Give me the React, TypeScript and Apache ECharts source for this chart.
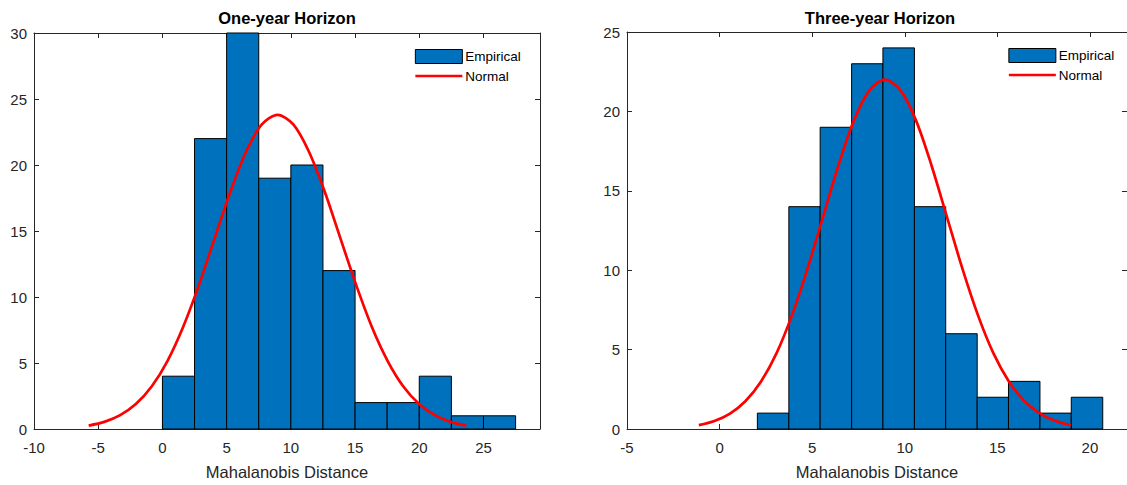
import React, { useEffect, useRef } from "react";
import * as echarts from "echarts";

// ---------- data ----------
const leftTitle = "One-year Horizon";
const rightTitle = "Three-year Horizon";
const xAxisLabel = "Mahalanobis Distance";

const leftBinEdges = [0, 2.5, 5, 7.5, 10, 12.5, 15, 17.5, 20, 22.5, 25, 27.5];
const leftCounts = [4, 22, 30, 19, 20, 12, 2, 2, 4, 1, 1];

const rightBinEdges = [2.04, 3.74, 5.43, 7.13, 8.82, 10.52, 12.21, 13.91, 15.6, 17.3, 18.99, 20.69];
const rightCounts = [1, 14, 19, 23, 24, 14, 6, 2, 3, 1, 2];

const leftNormalX = [
  -5.74, -4.52, -3.29, -2.07, -0.84, 0.39, 1.61, 2.84, 4.06, 5.29, 6.51, 7.74, 8.96,
  10.19, 11.41, 12.64, 13.86, 15.09, 16.31, 17.54, 18.76, 19.99, 21.21, 22.44, 23.66,
];
const leftNormalY = [
  0.26, 0.54, 1.05, 1.89, 3.22, 5.15, 7.73, 10.9, 14.44, 17.97, 21.0, 23.07, 23.8,
  23.07, 21.0, 17.97, 14.44, 10.9, 7.73, 5.15, 3.22, 1.89, 1.05, 0.54, 0.26,
];

const rightNormalX = [
  -1.12, -0.28, 0.56, 1.39, 2.23, 3.07, 3.9, 4.74, 5.58, 6.42, 7.25, 8.09, 8.93,
  9.77, 10.61, 11.44, 12.28, 13.12, 13.96, 14.79, 15.63, 16.47, 17.31, 18.14, 18.98,
];
const rightNormalY = [
  0.24, 0.5, 0.97, 1.75, 2.98, 4.76, 7.14, 10.07, 13.34, 16.61, 19.42, 21.32, 22.0,
  21.32, 19.42, 16.61, 13.34, 10.07, 7.14, 4.76, 2.98, 1.75, 0.97, 0.5, 0.24,
];

const leftXTicks = { min: -10, max: 29.4, interval: 5 };
const leftYTicks = { min: 0, max: 30, interval: 5 };
const rightXTicks = { min: -5, max: 22, interval: 5 };
const rightYTicks = { min: 0, max: 25, interval: 5 };

// ---------- style ----------
const FONT = "'Liberation Sans', Arial, Helvetica, sans-serif";
const AXIS_COLOR = "#262626";
const BAR_COLOR = "#0072BD";
const LINE_COLOR = "#FF0000";

const grids = [
  { left: 34, top: 33, width: 506, height: 400 },
  { left: 627, top: 32, width: 506, height: 400 },
];

function histData(edges: number[], counts: number[]) {
  return counts.map((c, i) => [edges[i], edges[i + 1], c]);
}
function lineData(xs: number[], ys: number[]) {
  return xs.map((x, i) => [x, ys[i]]);
}

function makeXAxes(gridIndex: number, t: { min: number; max: number; interval: number }, name: string) {
  const base = {
    type: "value" as const,
    gridIndex,
    min: t.min,
    max: t.max,
    interval: t.interval,
    splitLine: { show: false },
    axisLine: { show: true, onZero: false, lineStyle: { color: AXIS_COLOR, width: 1 } },
    axisTick: { show: true, inside: true, length: 5, lineStyle: { color: AXIS_COLOR, width: 1 } },
  };
  return [
    {
      ...base,
      position: "bottom",
      name,
      nameLocation: "middle",
      nameGap: 34,
      nameTextStyle: { fontFamily: FONT, fontSize: 16.5, color: AXIS_COLOR },
      axisLabel: {
        show: true,
        margin: 11,
        fontFamily: FONT,
        fontSize: 15,
        color: AXIS_COLOR,
        showMaxLabel: false,
        showMinLabel: true,
      },
    },
    { ...base, position: "top", axisLabel: { show: false } },
  ];
}

function makeYAxes(gridIndex: number, t: { min: number; max: number; interval: number }) {
  const base = {
    type: "value" as const,
    gridIndex,
    min: t.min,
    max: t.max,
    interval: t.interval,
    splitLine: { show: false },
    axisLine: { show: true, onZero: false, lineStyle: { color: AXIS_COLOR, width: 1 } },
    axisTick: { show: true, inside: true, length: 5, lineStyle: { color: AXIS_COLOR, width: 1 } },
  };
  return [
    {
      ...base,
      position: "left",
      axisLabel: { show: true, margin: 7, fontFamily: FONT, fontSize: 15, color: AXIS_COLOR },
    },
    { ...base, position: "right", axisLabel: { show: false } },
  ];
}

function histSeries(axisIndex: number, edges: number[], counts: number[]) {
  return {
    type: "custom",
    name: "Empirical",
    xAxisIndex: axisIndex,
    yAxisIndex: axisIndex,
    itemStyle: { color: BAR_COLOR },
    encode: { x: [0, 1], y: 2 },
    data: histData(edges, counts),
    z: 2,
    renderItem: (params: any, api: any) => {
      const p0 = api.coord([api.value(0), api.value(2)]);
      const p1 = api.coord([api.value(1), 0]);
      return {
        type: "rect",
        shape: { x: p0[0], y: p0[1], width: p1[0] - p0[0], height: p1[1] - p0[1] },
        style: { fill: BAR_COLOR, stroke: "#000", lineWidth: 1 },
      };
    },
  };
}

function normalSeries(axisIndex: number, xs: number[], ys: number[]) {
  return {
    type: "line",
    name: "Normal",
    xAxisIndex: axisIndex,
    yAxisIndex: axisIndex,
    data: lineData(xs, ys),
    smooth: 0.3,
    symbol: "none",
    showSymbol: false,
    itemStyle: { color: LINE_COLOR },
    lineStyle: { color: LINE_COLOR, width: 2.7 },
    z: 3,
  };
}

function makeLegend(left: number, top: number) {
  return {
    orient: "vertical",
    left,
    top,
    padding: 0,
    itemWidth: 47,
    itemHeight: 14,
    itemGap: 5,
    selectedMode: false,
    textStyle: { fontFamily: FONT, fontSize: 13.5, color: "#000", padding: [0, 0, 0, -2] },
    data: [
      { name: "Empirical", icon: "rect", itemStyle: { color: BAR_COLOR, borderColor: "#000", borderWidth: 1 } },
      { name: "Normal", itemStyle: { opacity: 0 }, lineStyle: { color: LINE_COLOR, width: 2.7, opacity: 1 } },
    ],
  };
}

export default function App() {
  const ref = useRef<HTMLDivElement>(null);

  useEffect(() => {
    if (!ref.current) return;
    const chart = echarts.init(ref.current, undefined, { renderer: "svg" });
    const lx = makeXAxes(0, leftXTicks, xAxisLabel);
    const rx = makeXAxes(1, rightXTicks, xAxisLabel);
    const ly = makeYAxes(0, leftYTicks);
    const ry = makeYAxes(1, rightYTicks);

    chart.setOption({
      animation: false,
      backgroundColor: "#ffffff",
      grid: grids.map((g) => ({ ...g, containLabel: false })),
      // axes order: 0 left-bottom, 1 right-bottom, 2 left-top, 3 right-top
      xAxis: [lx[0], rx[0], lx[1], rx[1]],
      yAxis: [ly[0], ry[0], ly[1], ry[1]],
      legend: [makeLegend(414, 49), makeLegend(1007.5, 48)],
      graphic: [
        {
          type: "text",
          x: grids[0].left + grids[0].width / 2,
          y: 18.3,
          style: {
            text: leftTitle,
            align: "center",
            verticalAlign: "middle",
            fontFamily: FONT,
            fontSize: 16.5,
            fontWeight: "bold",
            fill: "#000",
          },
        },
        {
          type: "text",
          x: grids[1].left + grids[1].width / 2,
          y: 18.3,
          style: {
            text: rightTitle,
            align: "center",
            verticalAlign: "middle",
            fontFamily: FONT,
            fontSize: 16.5,
            fontWeight: "bold",
            fill: "#000",
          },
        },
      ],
      series: [
        histSeries(0, leftBinEdges, leftCounts),
        normalSeries(0, leftNormalX, leftNormalY),
        histSeries(1, rightBinEdges, rightCounts),
        normalSeries(1, rightNormalX, rightNormalY),
      ],
    });

    return () => {
      chart.dispose();
    };
  }, []);

  return (
    <div
      ref={ref}
      style={{ position: "fixed", left: 0, top: 0, width: 1127, height: 485, background: "#fff" }}
    />
  );
}
